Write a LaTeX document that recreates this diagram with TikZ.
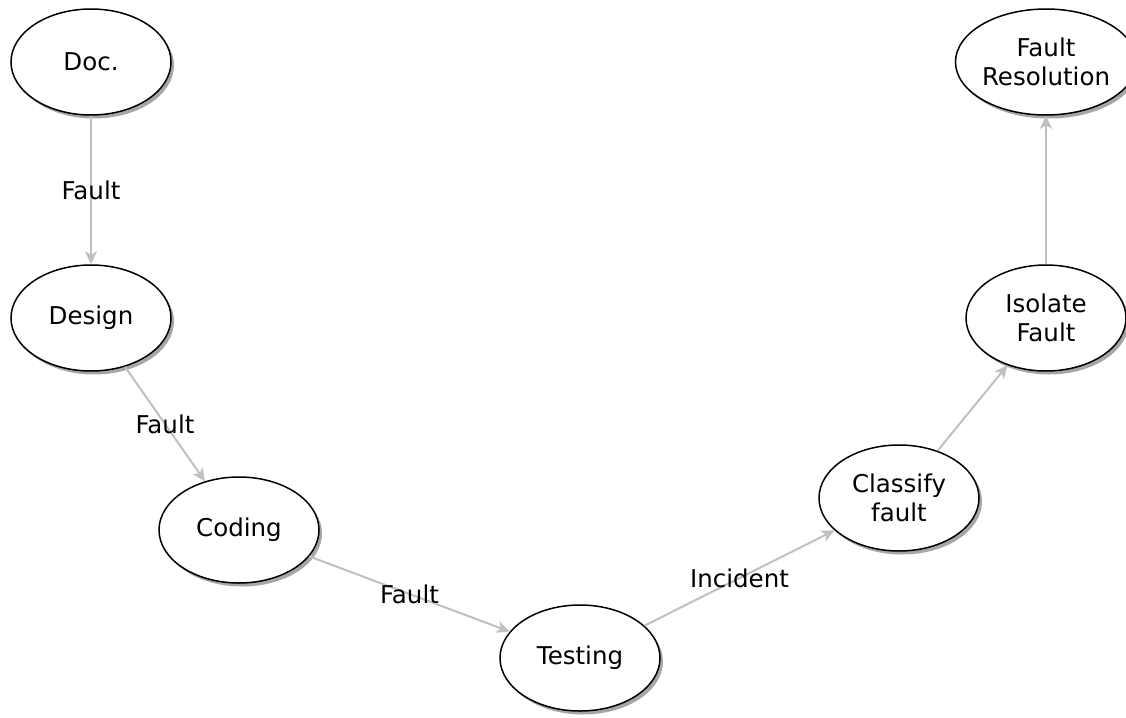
\documentclass[tikz,border=0pt]{standalone}
\usepackage{fontspec}
\setmainfont{DejaVu Sans}
\usetikzlibrary{shapes.geometric,shadows,arrows.meta}
\definecolor{edgegray}{RGB}{192,192,192}
\begin{document}
\begin{tikzpicture}[x=1pt,y=-1pt,
  stage/.style={ellipse, draw=black, line width=1.5pt, fill=white,
    minimum width=160pt, minimum height=106pt, inner sep=0pt, align=center,
    font=\fontsize{24.5}{29}\selectfont,
    drop shadow={shadow xshift=3pt, shadow yshift=-3.5pt, fill=black!50, opacity=0.7}},
  flow/.style={draw=edgegray, line width=2pt,
    -{Stealth[length=13pt,width=12pt,inset=3.5pt,fill=edgegray]}},
  tag/.style={font=\fontsize{24.5}{29}\selectfont, inner sep=0pt}]
\useasboundingbox (0,0) rectangle (1126,717);

% development chain
\node[stage] (doc)      at (91,62)   {Doc.};
\node[stage] (design)   at (91,318)  {Design};
\node[stage] (coding)   at (239,530) {Coding};
\node[stage] (testing)  at (580,658) {Testing};
% fault handling chain
\node[stage] (classify) at (899,498) {Classify\\fault};
\node[stage] (isolate)  at (1046,318) {Isolate\\Fault};
\node[stage] (resolve)  at (1046,62) {Fault\\Resolution};

\draw[flow] (doc) -- node[tag] {Fault} (design);
\draw[flow] (design) -- node[tag] {Fault} (coding);
\draw[flow] (coding) -- node[tag] {Fault} (testing);
\draw[flow] (testing) -- node[tag] {Incident} (classify);
\draw[flow] (classify) -- (isolate);
\draw[flow] (isolate) -- (resolve);
\end{tikzpicture}
\end{document}
